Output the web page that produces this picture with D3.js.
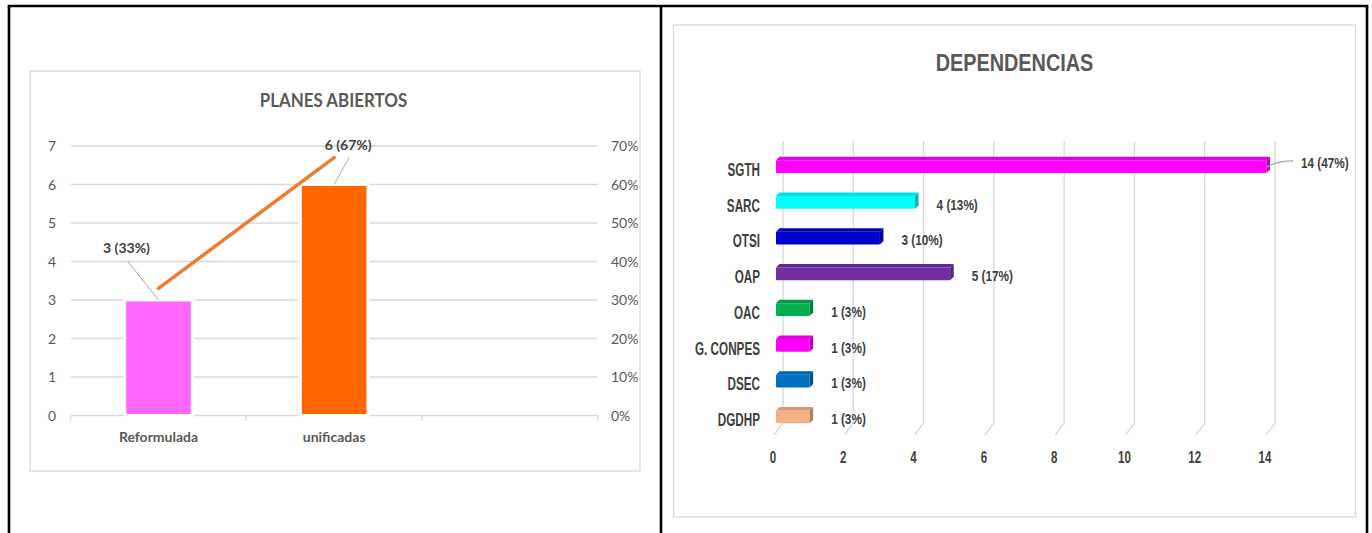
<!DOCTYPE html>
<html lang="es">
<head>
  <meta charset="utf-8">
  <title>Planes abiertos y dependencias</title>
  <script src="https://d3js.org/d3.v7.min.js"></script>
  <style>
    body { margin: 0; background: #fff; }
    svg { display: block; }
    .izq text { font-family: Lato, "Open Sans", sans-serif; fill: #595959; }
    .der text { font-family: "Liberation Sans", Arial, sans-serif; font-weight: bold; fill: #404040; }
  </style>
</head>
<body>
  <div id="chart"></div>

  <script>
    "use strict"

    // --- datos: planes abiertos
    var planCategorias = ["Reformulada", "unificadas", ""];
    var planValores = [3, 6];
    var planPorcentajes = [0.33, 0.67];
    var planEtiquetas = ["3 (33%)", "6 (67%)"];
    var planTicksIzq = [0, 1, 2, 3, 4, 5, 6, 7];
    var planTicksDer = [0, 0.1, 0.2, 0.3, 0.4, 0.5, 0.6, 0.7];

    // --- datos: dependencias
    var depCategorias = ["SGTH", "SARC", "OTSI", "OAP", "OAC", "G. CONPES", "DSEC", "DGDHP"];
    var depValores = [14, 4, 3, 5, 1, 1, 1, 1];
    var depPorcentajes = [47, 13, 10, 17, 3, 3, 3, 3];
    var depTicks = [0, 2, 4, 6, 8, 10, 12, 14];

    var planColores = ["#FF66FF", "#FF6600"];
    var depColores = ["#FF00FF", "#00FFFF", "#0000CC", "#7030A0", "#00B050", "#FF00FF", "#0070C0", "#F4B183"];

    var svg = d3.select("#chart").append("svg")
      .attr("width", 1372).attr("height", 533);

    // marco negro de la tabla
    var marco = svg.append("g").attr("stroke", "#000").attr("stroke-width", 2.6);
    marco.append("line").attr("x1", 7.7).attr("x2", 1368.3).attr("y1", 6).attr("y2", 6);
    marco.append("line").attr("x1", 9).attr("x2", 9).attr("y1", 6).attr("y2", 533);
    marco.append("line").attr("x1", 661).attr("x2", 661).attr("y1", 6).attr("y2", 533);
    marco.append("line").attr("x1", 1367).attr("x2", 1367).attr("y1", 6).attr("y2", 533);

    // texto comprimido a lo ancho
    function ponTexto(g, x, y, txt, sx) {
      return g.append("text")
        .attr("transform", "translate(" + x + "," + y + ") scale(" + sx + ",1)")
        .text(txt);
    }

    /*
     * Grafico 1: PLANES ABIERTOS
     */
    function desenhaPlanes() {
      var g = svg.append("g").attr("class", "izq");

      g.append("rect").attr("x", 30).attr("y", 71).attr("width", 610).attr("height", 400)
        .attr("fill", "#fff").attr("stroke", "#D9D9D9").attr("stroke-width", 1.3);

      ponTexto(g, 333.5, 106.5, "PLANES ABIERTOS", 0.94)
        .attr("text-anchor", "middle").style("font-size", "18px").style("font-weight", "bold");

      var x = d3.scaleBand().domain(planCategorias).range([70.7, 597.6]);
      var y = d3.scaleLinear().domain([0, 7]).range([415.5, 146]);
      var y2 = d3.scaleLinear().domain([0, 0.7]).range([415.5, 146]);
      var anchoBarra = x.bandwidth() * 0.385;

      // grade
      g.append("g").selectAll("line").data(planTicksIzq.slice(1)).enter().append("line")
        .attr("x1", x.range()[0]).attr("x2", x.range()[1])
        .attr("y1", function(d) { return y(d); }).attr("y2", function(d) { return y(d); })
        .attr("stroke", "#D9D9D9").attr("stroke-width", 1.3);

      // eixo x
      g.append("line").attr("x1", x.range()[0]).attr("x2", x.range()[1])
        .attr("y1", y(0)).attr("y2", y(0)).attr("stroke", "#D9D9D9").attr("stroke-width", 1.3);
      g.append("g").selectAll("line").data(planCategorias.concat(["fim"])).enter().append("line")
        .attr("x1", function(d, i) { return x.range()[0] + i * x.step(); })
        .attr("x2", function(d, i) { return x.range()[0] + i * x.step(); })
        .attr("y1", y(0)).attr("y2", y(0) + 5)
        .attr("stroke", "#D9D9D9").attr("stroke-width", 1.3);

      g.append("g").selectAll("text").data(planCategorias).enter().append("text")
        .attr("x", function(d) { return x(d) + x.bandwidth() / 2; })
        .attr("y", 442)
        .attr("text-anchor", "middle")
        .style("font-size", "14px").style("font-weight", "bold")
        .text(function(d) { return d; });

      // eixos y
      g.append("g").selectAll("text").data(planTicksIzq).enter().append("text")
        .attr("x", 56).attr("y", function(d) { return y(d) + 5; })
        .attr("text-anchor", "end").style("font-size", "14px")
        .text(function(d) { return d; });
      g.append("g").selectAll("text").data(planTicksDer).enter().append("text")
        .attr("x", 611).attr("y", function(d) { return y2(d) + 5; })
        .style("font-size", "14px")
        .text(d3.format(".0%"));

      // barras
      g.append("g").selectAll("rect").data(planValores).enter().append("rect")
        .attr("x", function(d, i) { return x(planCategorias[i]) + (x.bandwidth() - anchoBarra) / 2; })
        .attr("y", function(d) { return y(d); })
        .attr("width", anchoBarra)
        .attr("height", function(d) { return y(0) - y(d); })
        .attr("fill", function(d, i) { return planColores[i]; })
        .attr("stroke", "#fff").attr("stroke-width", 3);

      // linea de porcentaje
      var linha = d3.line()
        .x(function(d, i) { return x(planCategorias[i]) + x.bandwidth() / 2; })
        .y(function(d) { return y2(d); });
      g.append("path").datum(planPorcentajes)
        .attr("d", linha).attr("fill", "none")
        .attr("stroke", "#ED7D31").attr("stroke-width", 3.5).attr("stroke-linecap", "round");

      // etiquetas con lineas guia
      var desloc = [[-32, -47], [14, -35]];
      planValores.forEach(function(v, i) {
        var cx = x(planCategorias[i]) + x.bandwidth() / 2;
        var lx = cx + desloc[i][0], ly = y(v) + desloc[i][1];
        g.append("line").attr("x1", lx + 1).attr("y1", ly + 8).attr("x2", cx).attr("y2", y(v))
          .attr("stroke", "#A6A6A6").attr("stroke-width", 1);
        g.append("text").attr("x", lx).attr("y", ly)
          .attr("text-anchor", "middle").style("font-size", "14px").style("font-weight", "bold")
          .style("fill", "#404040")
          .text(planEtiquetas[i]);
      });
    }

    /*
     * Grafico 2: DEPENDENCIAS (barras 3D)
     */
    function desenhaDependencias() {
      var g = svg.append("g").attr("class", "der");

      g.append("rect").attr("x", 673.5).attr("y", 25).attr("width", 682).attr("height", 492)
        .attr("fill", "#fff").attr("stroke", "#D9D9D9").attr("stroke-width", 1.3);

      ponTexto(g, 1014.5, 71, "DEPENDENCIAS", 0.81)
        .attr("text-anchor", "middle").style("font-size", "24.5px").style("fill", "#595959");

      var x = d3.scaleLinear().domain([0, 14]).range([776, 1268]);
      var y = d3.scaleBand().domain(depCategorias).range([147, 433])
        .paddingInner(0.55).paddingOuter(0.275);
      var fundo = 7, piso = 9;

      // grade vertical (parede do fundo + piso)
      var grade = g.append("g").attr("stroke", "#D9D9D9").attr("stroke-width", 1.4).attr("fill", "none");
      grade.selectAll("path").data(depTicks).enter().append("path")
        .attr("d", function(d) {
          var xb = x(d) + fundo;
          return "M" + xb + ",141 L" + xb + ",423 L" + (xb - piso) + ",435";
        });

      g.append("g").selectAll("text").data(depTicks).enter().append("text")
        .attr("transform", function(d) { return "translate(" + (x(d) - 3) + ",463) scale(0.72,1)"; })
        .attr("text-anchor", "middle").style("font-size", "16px")
        .text(function(d) { return d; });

      // categorias
      g.append("g").selectAll("text").data(depCategorias).enter().append("text")
        .attr("transform", function(d) {
          return "translate(760," + (y(d) + y.bandwidth() / 2 + 11) + ") scale(0.65,1)";
        })
        .attr("text-anchor", "end").style("font-size", "18px")
        .text(function(d) { return d; });

      // barras com profundidade
      var p = 3.5;
      var barras = g.append("g").selectAll("g").data(depValores).enter().append("g");
      barras.each(function(v, i) {
        var b = d3.select(this);
        var x0 = x(0), x1 = x(v) + 2, y0 = y(depCategorias[i]), h = y.bandwidth();
        var cor = d3.color(depColores[i]);
        b.append("rect").attr("x", x0).attr("y", y0 + p).attr("width", x1 - p - x0).attr("height", h - p)
          .attr("fill", cor.formatHex()).attr("rx", 1);
        b.append("path")
          .attr("d", "M" + x0 + "," + (y0 + p) + "L" + (x0 + p) + "," + y0 + "L" + x1 + "," + y0 +
                     "L" + (x1 - p) + "," + (y0 + p) + "Z")
          .attr("fill", cor.darker(0.35).formatHex());
        b.append("path")
          .attr("d", "M" + (x1 - p) + "," + (y0 + p) + "L" + x1 + "," + y0 + "L" + x1 + "," + (y0 + h - p) +
                     "L" + (x1 - p) + "," + (y0 + h) + "Z")
          .attr("fill", cor.darker(0.9).formatHex());
      });

      // etiquetas de valor
      depValores.forEach(function(v, i) {
        var cy = y(depCategorias[i]) + y.bandwidth() / 2;
        var txt = v + " (" + depPorcentajes[i] + "%)";
        if (v === d3.max(depValores)) {
          g.append("path")
            .attr("d", "M" + (x(v) - 1) + "," + (cy + 2) + " Q" + (x(v) + 10) + "," + (cy - 4) + " " + (x(v) + 25) + "," + (cy - 4))
            .attr("fill", "none").attr("stroke", "#A6A6A6").attr("stroke-width", 1.2);
          ponTexto(g, x(v) + 33, cy + 3.5, txt, 0.76).style("font-size", "15.5px");
        } else {
          ponTexto(g, x(v) + 20, cy + 9, txt, 0.76).style("font-size", "15.5px");
        }
      });
    }

    desenhaPlanes();
    desenhaDependencias();
  </script>
</body>
</html>
